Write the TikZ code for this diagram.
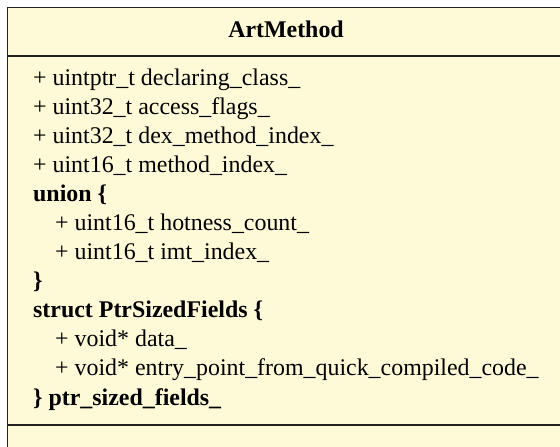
\documentclass[tikz,border=0pt]{standalone}
\usepackage{fontspec}
\setmainfont{Liberation Serif}
\definecolor{boxfill}{HTML}{FEF9D6}
\definecolor{boxline}{HTML}{222222}
\begin{document}
\begin{tikzpicture}[x=1pt,y=-1pt,
  frame/.style={draw=boxline,line width=1.4pt,fill=boxfill},
  divider/.style={draw=boxline,line width=1.4pt},
  member/.style={anchor=base west,inner sep=0pt,font=\fontsize{23.9}{26}\selectfont},
  title/.style={anchor=base,inner sep=0pt,font=\fontsize{23.9}{26}\selectfont\bfseries}]
\useasboundingbox (0,0) rectangle (560,447);
\clip (0,0) rectangle (560,447);
\path[frame] (7.5,7.5) rectangle (564.5,470);
\coordinate (d1l) at (7.5,56);
\coordinate (d1r) at (564.5,56);
\coordinate (d2l) at (7.5,425);
\coordinate (d2r) at (564.5,425);
\draw[divider] (d1l) -- (d1r);
\draw[divider] (d2l) -- (d2r);
\node[title] (hdr) at (286,37.7) {ArtMethod};
\node[member] (m1) at (33,85) {+ uintptr\_t declaring\_class\_};
\node[member] (m2) at (33,114.09) {+ uint32\_t access\_flags\_};
\node[member] (m3) at (33,143.18) {+ uint32\_t dex\_method\_index\_};
\node[member] (m4) at (33,172.27) {+ uint16\_t method\_index\_};
\node[member] (m5) at (33,201.36) {\bfseries union \{};
\node[member] (m6) at (55,230.45) {+ uint16\_t hotness\_count\_};
\node[member] (m7) at (55,259.55) {+ uint16\_t imt\_index\_};
\node[member] (m8) at (33,288.64) {\bfseries \}};
\node[member] (m9) at (33,317.73) {\bfseries struct PtrSizedFields \{};
\node[member] (m10) at (55,346.82) {+ void* data\_};
\node[member] (m11) at (55,375.91) {+ void* entry\_point\_from\_quick\_compiled\_code\_};
\node[member] (m12) at (33,405) {\bfseries \} ptr\_sized\_fields\_};
\end{tikzpicture}
\end{document}
